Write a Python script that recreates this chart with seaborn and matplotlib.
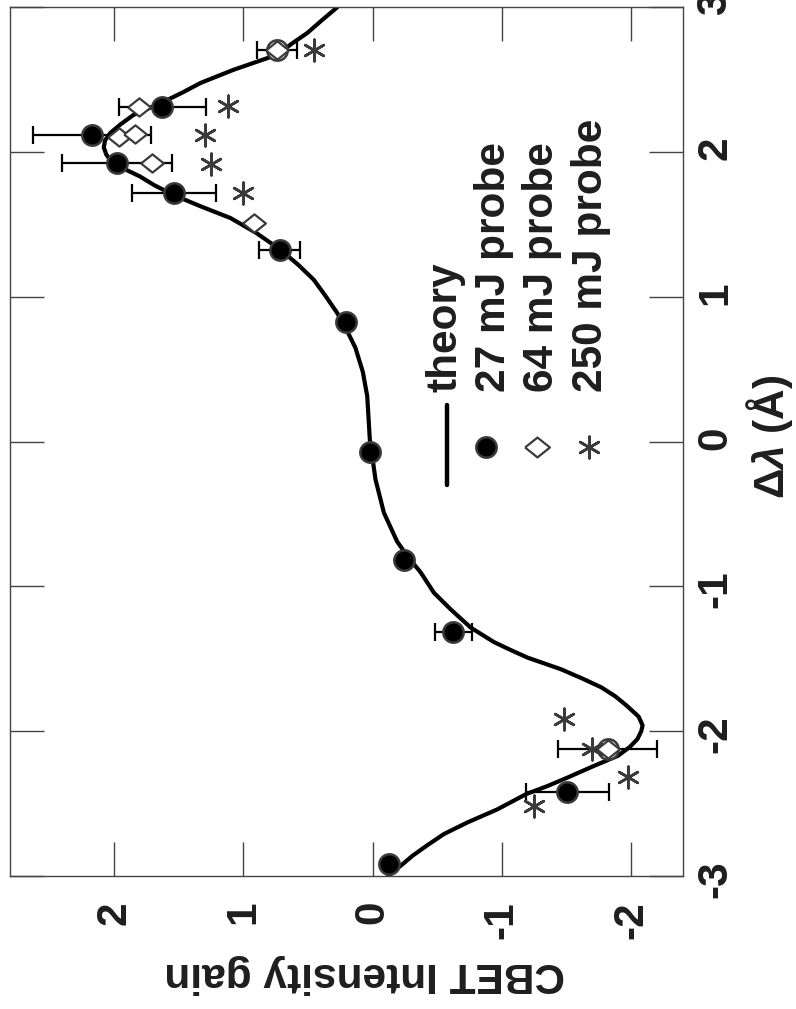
import matplotlib
matplotlib.use("Agg")
import matplotlib.pyplot as plt
import numpy as np
import pandas as pd
import seaborn as sns

# Theory curve: CBET intensity gain versus wavelength detuning (Angstrom)
theory_dl = [-3.0, -2.93, -2.86, -2.79, -2.71, -2.63, -2.54, -2.434, -2.379,
             -2.32, -2.239, -2.17, -2.11, -2.055, -2.0, -1.96, -1.90, -1.826,
             -1.76, -1.697, -1.635, -1.572, -1.492, -1.44, -1.385, -1.285,
             -1.159, -1.044, -0.903, -0.791, -0.69, -0.492, -0.262, 0.014,
             0.313, 0.48, 0.646, 0.77, 0.888, 1.0, 1.117, 1.22, 1.324, 1.44,
             1.543, 1.62, 1.70, 1.77, 1.83, 1.92, 1.98, 2.03, 2.08, 2.13,
             2.19, 2.255, 2.34, 2.41, 2.476, 2.566, 2.67, 2.75, 2.82, 2.91,
             3.0]
theory_gain = [-0.12, -0.217, -0.31, -0.42, -0.553, -0.735, -0.966, -1.19,
               -1.354, -1.51, -1.716, -1.90, -1.99, -2.05, -2.08, -2.09, -2.06,
               -1.97, -1.88, -1.77, -1.62, -1.457, -1.199, -1.07, -0.94, -0.76,
               -0.605, -0.475, -0.372, -0.269, -0.19, -0.088, -0.023, 0.021,
               0.041, 0.075, 0.132, 0.20, 0.274, 0.36, 0.455, 0.575, 0.713,
               0.90, 1.10, 1.32, 1.535, 1.69, 1.80, 2.01, 2.06, 2.08, 2.07,
               2.03, 1.95, 1.85, 1.63, 1.47, 1.33, 1.077, 0.74, 0.62, 0.506,
               0.39, 0.271]

# 27 mJ probe measurements
p27_dl = [2.312, 2.117, 1.922, 1.719, 1.324, 0.823, -0.074, -0.819, -1.315,
          -2.419, -2.917]
p27_gain = [1.626, 2.168, 1.979, 1.535, 0.718, 0.209, 0.021, -0.243, -0.625,
            -1.509, -0.124]
p27_err = [0.336, 0.457, 0.426, 0.326, 0.16, 0.0, 0.0, 0.0, 0.142, 0.323, 0.0]

# 64 mJ probe measurements
p64_dl = [2.70, 2.312, 2.10, 2.126, 1.922, 1.512, -2.124]
p64_gain = [0.739, 1.81, 1.966, 1.837, 1.708, 0.92, -1.819]
p64_err = [0.155, 0.0, 0.0, 0.0, 0.0, 0.0, 0.385]

# 250 mJ probe measurements
p250_dl = [2.703, 2.317, 2.117, 1.917, 1.719, -1.917, -2.124, -2.319, -2.519]
p250_gain = [0.455, 1.122, 1.295, 1.25, 1.002, -1.483, -1.695, -1.98, -1.25]

gain_ticks = [-2, -1, 0, 1, 2]
dl_ticks = [-3, -2, -1, 0, 1, 2, 3]

legend_labels = ["theory", "27 mJ probe", "64 mJ probe", "250 mJ probe"]

sns.set_theme(style="white")
plt.rcParams["font.family"] = ["Liberation Sans", "DejaVu Sans"]
plt.rcParams["font.weight"] = "bold"
plt.rcParams["axes.unicode_minus"] = False
plt.rcParams["mathtext.fontset"] = "custom"
plt.rcParams["mathtext.rm"] = "Liberation Sans"
plt.rcParams["mathtext.it"] = "Liberation Sans:italic"

FS = 30.5
EDGE = "#3a3a3a"
TXT = "#1e1e1e"

theory = pd.DataFrame({"dl": theory_dl, "gain": theory_gain})
d27 = pd.DataFrame({"dl": p27_dl, "gain": p27_gain, "err": p27_err})
d64 = pd.DataFrame({"dl": p64_dl, "gain": p64_gain, "err": p64_err})
d250 = pd.DataFrame({"dl": p250_dl, "gain": p250_gain})

W, H = 796, 1009
fig = plt.figure(figsize=(W / 100, H / 100), dpi=100)
x0, x1, y0, y1 = 10, 683, 7, 876
ax = fig.add_axes([x0 / W, 1 - y1 / H, (x1 - x0) / W, (y1 - y0) / H])

# The plot is laid out sideways: gain runs horizontally (reversed),
# detuning runs vertically with its labels on the right.
sns.lineplot(data=theory, x="gain", y="dl", sort=False, orient="y",
             color="black", lw=3, ax=ax, zorder=2)
ax.lines[-1].set_solid_joinstyle("round")

e27 = d27[d27["err"] > 0]
ax.errorbar(e27["gain"], e27["dl"], xerr=e27["err"], fmt="none",
            ecolor="black", elinewidth=1.6, capsize=6.5, capthick=1.6, zorder=3)
e64 = d64[d64["err"] > 0]
ax.errorbar(e64["gain"], e64["dl"], xerr=e64["err"], fmt="none",
            ecolor="black", elinewidth=1.6, capsize=6.5, capthick=1.6, zorder=3)

diamond = [(-1, 0), (0, 0.8), (1, 0), (0, -0.8), (-1, 0)]
star6 = (6, 2, 0)

sns.scatterplot(data=e64, x="gain", y="dl", marker="o", s=215,
                facecolor="white", edgecolor=EDGE, linewidth=1.8, ax=ax, zorder=4)
sns.scatterplot(data=d27, x="gain", y="dl", marker="o", s=215,
                color="black", edgecolor=EDGE, linewidth=1.8, ax=ax, zorder=5)
sns.scatterplot(data=d64, x="gain", y="dl", marker=diamond, s=270,
                facecolor="white", edgecolor=EDGE, linewidth=1.6, ax=ax, zorder=6)
sns.scatterplot(data=d250, x="gain", y="dl", marker=star6, s=240,
                color=EDGE, edgecolor=EDGE, linewidth=1.9, ax=ax, zorder=6)

ax.set_xlim(2.806, -2.403)
ax.set_ylim(-3, 3)
ax.set_xticks(gain_ticks)
ax.set_xticklabels([str(t) for t in gain_ticks])
ax.set_yticks(dl_ticks)
ax.set_yticklabels([str(t) for t in dl_ticks])

for s in ax.spines.values():
    s.set_color("#444444")
    s.set_linewidth(1.0)

ax.tick_params(axis="x", direction="in", length=24.5, width=1.0,
               color="#444444", top=True, bottom=True, labelbottom=True,
               labelrotation=90, labelsize=FS, labelcolor=TXT, pad=18)
ax.tick_params(axis="y", direction="in", length=24.5, width=1.0,
               color="#444444", left=True, right=True, labelleft=False,
               labelright=True, labelrotation=90, labelsize=FS,
               labelcolor=TXT, pad=9)
for lab in ax.get_xticklabels() + ax.get_yticklabels():
    lab.set_fontweight("bold")

ax.set_xlabel("CBET Intensity gain", rotation=180, fontsize=FS,
              fontweight="bold", color=TXT)
ax.xaxis.set_label_coords((365 - x0) / (x1 - x0), (y1 - 954) / (y1 - y0))
ax.set_ylabel(r"$\Delta\lambda$ (Å)", fontsize=FS, fontweight="bold", color=TXT)
ax.yaxis.set_label_position("right")
ax.yaxis.set_label_coords((744 - x0) / (x1 - x0), (y1 - 437) / (y1 - y0))


def fx(px):
    return (px - x0) / (x1 - x0)


def fy(py):
    return (y1 - py) / (y1 - y0)


# Legend, drawn sideways to follow the rotated layout
tr = ax.transAxes
ax.plot([fx(447), fx(447)], [fy(405), fy(485)], transform=tr, color="black",
        lw=3.2, clip_on=False)
ax.scatter([fx(486)], [fy(447)], transform=tr, marker="o", s=215,
           color="black", edgecolor=EDGE, linewidth=1.8, clip_on=False)
ax.scatter([fx(537)], [fy(447)], transform=tr, marker=diamond, s=320,
           facecolor="white", edgecolor=EDGE, linewidth=1.6, clip_on=False)
ax.scatter([fx(589)], [fy(447)], transform=tr, marker=star6, s=240,
           color=EDGE, edgecolor=EDGE, linewidth=1.9, clip_on=False)
for bx, txt in zip([457, 505, 553, 602], legend_labels):
    ax.text(fx(bx), fy(392), txt, transform=tr, rotation=90,
            rotation_mode="anchor", ha="left", va="baseline", fontsize=FS,
            fontweight="bold", color=TXT)

fig.savefig("out.png", dpi=100)
